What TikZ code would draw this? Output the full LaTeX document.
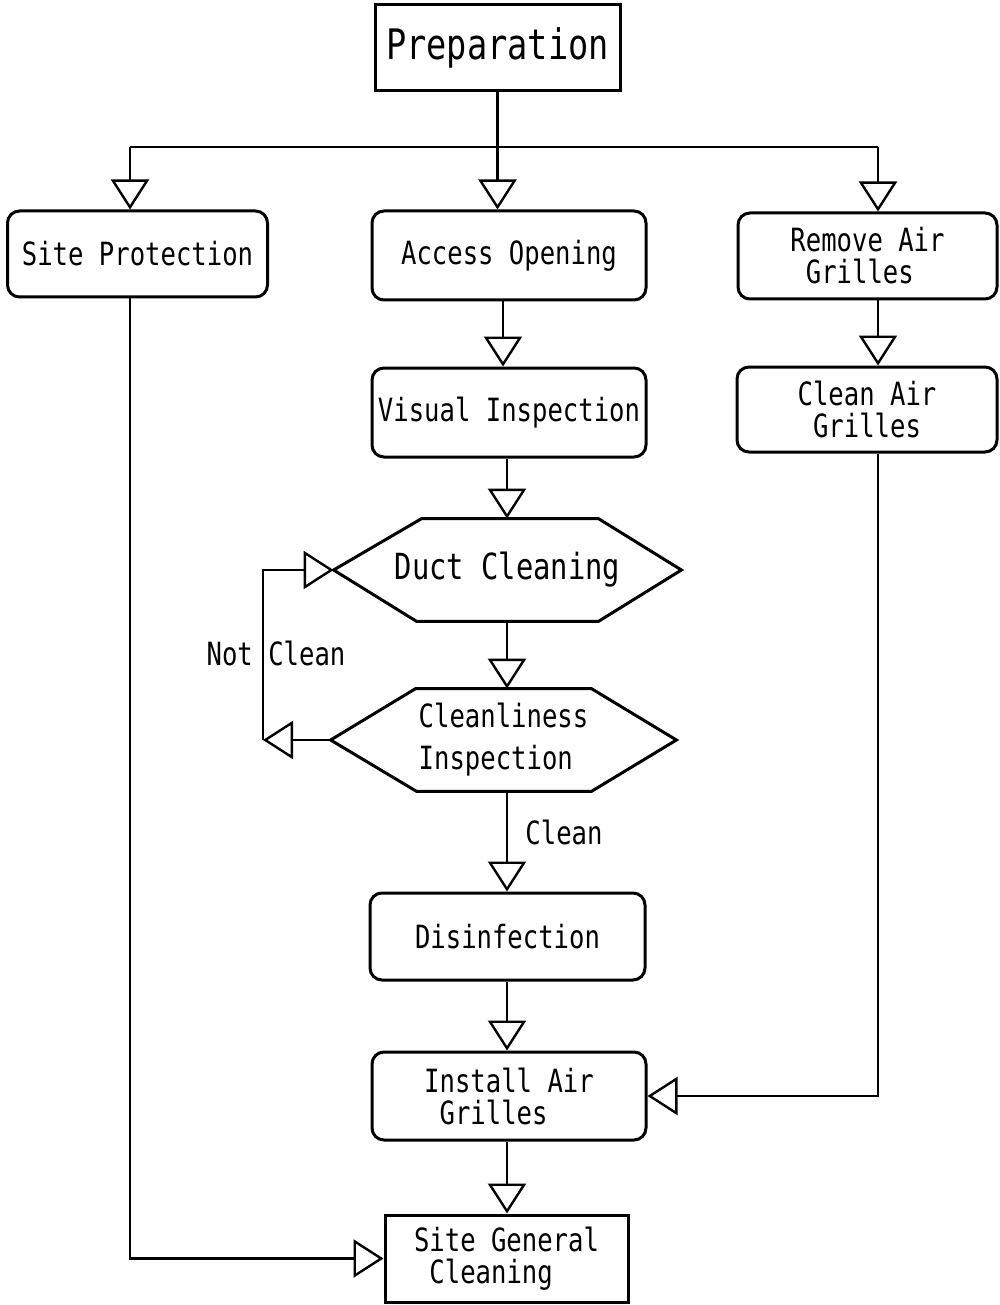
\documentclass[tikz,border=0pt]{standalone}
\usepackage{fontspec}
\newfontfamily\monofont[FakeStretch=0.8]{DejaVu Sans Mono}
\usetikzlibrary{arrows.meta}
\begin{document}
\begin{tikzpicture}[x=1pt,y=-1pt,
  line width=2.8pt,
  txt/.style={font=\monofont\fontsize{32}{32}\selectfont, inner sep=0pt, align=left},
  rbox/.style={txt, draw, rounded corners=12pt, line width=3pt},
  sbox/.style={txt, draw, line width=3pt},
  hexnode/.style={txt, minimum width=345pt, minimum height=100pt},
  arr/.style={-{Triangle[open, length=30pt, width=38pt, line width=2.4pt]}},
  lbl/.style={font=\monofont\fontsize{32}{31}\selectfont, inner sep=0pt}
]
\fill[white] (0,0) rectangle (1000,1305);
\useasboundingbox (0,0) rectangle (1000,1305);

% nodes
\node[sbox, minimum width=245pt, minimum height=86pt, font=\monofont\fontsize{42}{40}\selectfont] (prep) at (497.5,48) {Preparation};
\node[rbox, minimum width=260pt, minimum height=86pt] (sp) at (137.5,254) {Site Protection};
\node[rbox, minimum width=274pt, minimum height=89pt] (ao) at (509,255.5) {Access Opening};
\node[rbox, minimum width=259pt, minimum height=86pt] (rag) at (867.5,256) {Remove Air\\\hphantom{x}Grilles};
\node[rbox, minimum width=260pt, minimum height=85pt] (cag) at (867,409.5) {Clean Air\\\hphantom{x}Grilles};
\node[rbox, minimum width=274pt, minimum height=89pt] (vi) at (509,412.5) {Visual Inspection};
\node[hexnode, font=\monofont\fontsize{36}{34}\selectfont] (dc) at (507.5,570) {Duct Cleaning};
\node[hexnode, minimum width=343pt] (ci) at (503.5,740) {Cleanliness\\[10pt]Inspection};
\node[rbox, minimum width=275pt, minimum height=87pt] (dis) at (507.5,936.5) {Disinfection};
\node[rbox, minimum width=274pt, minimum height=88pt] (iag) at (509,1096) {Install Air\\\hphantom{x}Grilles};
\node[sbox, minimum width=243pt, minimum height=87pt] (sgc) at (506.5,1258.5) {Site General\\\hphantom{x}Cleaning};

% hexagon outlines
\draw[line width=3pt] (dc.west) -- ([xshift=88pt]dc.north west) -- ([xshift=-83pt]dc.north east) -- (dc.east)
      -- ([xshift=-83pt]dc.south east) -- ([xshift=83pt]dc.south west) -- cycle;
\draw[line width=3pt] (ci.west) -- ([xshift=85pt]ci.north west) -- ([xshift=-85pt]ci.north east) -- (ci.east)
      -- ([xshift=-85pt]ci.south east) -- ([xshift=86pt]ci.south west) -- cycle;

% helper coordinates
\coordinate (split) at (497.5,147);
\coordinate (xl) at (130,0);
\coordinate (xr) at (878,0);
\coordinate (xa) at (503,0);
\coordinate (xc) at (507,0);
\coordinate (loopb) at (263,740);

% connectors
\draw (prep.south) -- (split);
\draw (split -| xl) -- (split -| xr);
\draw[arr] (split -| xl) -- (sp.north -| xl);
\draw[arr] (split) -- (ao.north -| split);
\draw[arr] (split -| xr) -- (rag.north -| xr);
\draw[arr] (ao.south -| xa) -- (vi.north -| xa);
\draw[arr] (rag.south -| xr) -- (cag.north -| xr);
\draw[arr] (vi.south -| xc) -- (dc.north -| xc);
\draw[arr] (dc.south -| xc) -- (ci.north -| xc);
\draw[arr] (ci.west) -- (loopb);
\draw[arr] (loopb) |- (dc.west);
\draw[arr] (ci.south -| xc) -- (dis.north -| xc);
\draw[arr] (dis.south -| xc) -- (iag.north -| xc);
\draw[arr] (iag.south -| xc) -- (sgc.north -| xc);
\draw[arr] (cag.south -| xr) |- (iag.east);
\draw[arr] (sp.south -| xl) |- (sgc.west);

% labels
\node[lbl] (notclean) at (276,653) {Not Clean};
\node[lbl] (clean) at (564,832) {Clean};
\end{tikzpicture}
\end{document}
